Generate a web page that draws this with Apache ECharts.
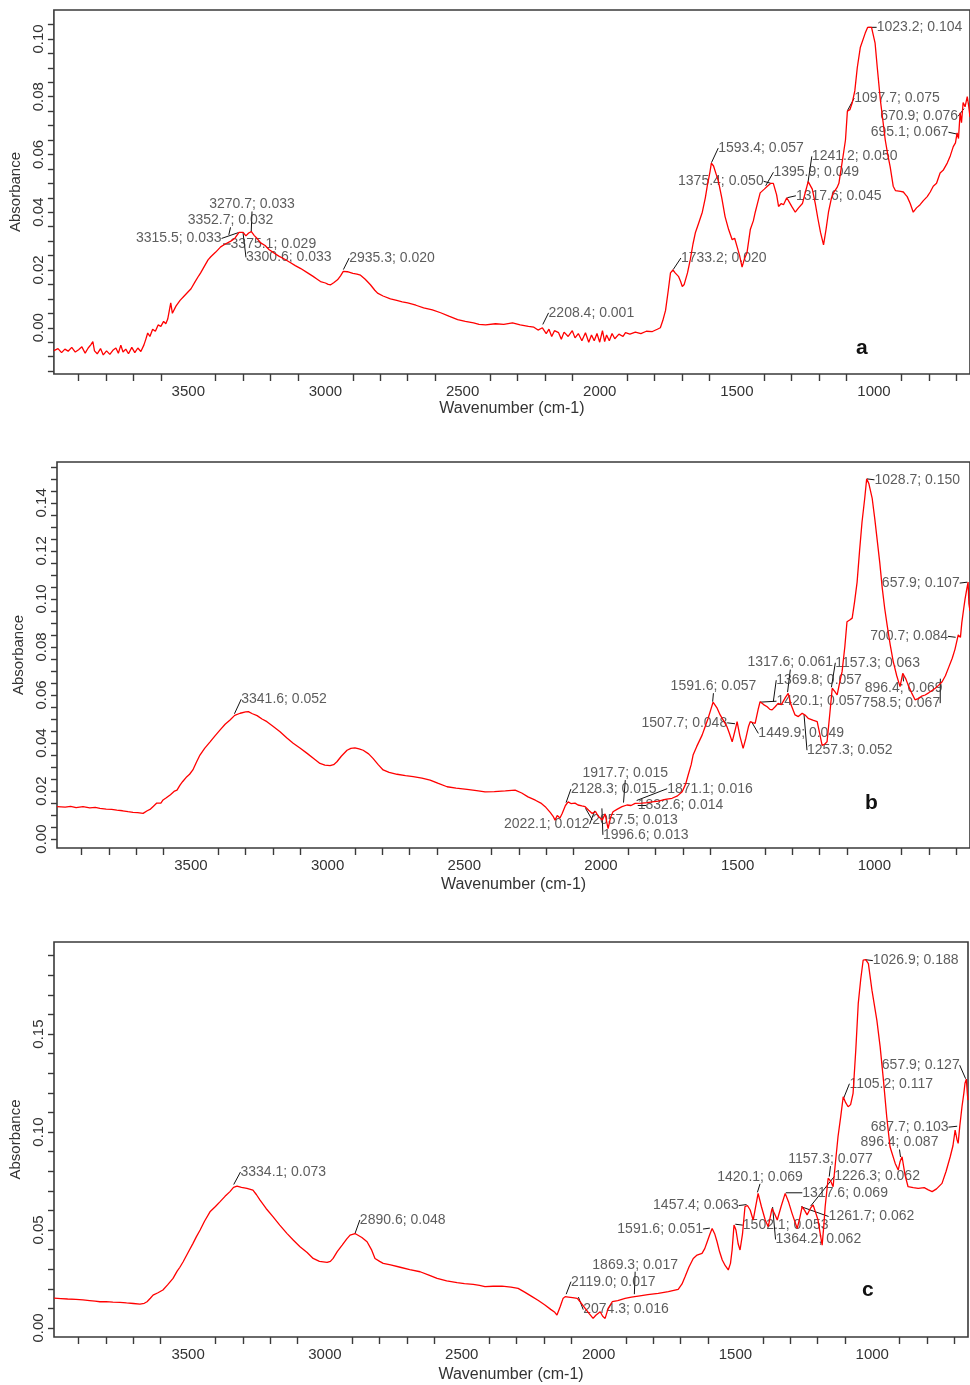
<!DOCTYPE html>
<html>
<head>
<meta charset="utf-8">
<title>FTIR spectra a, b, c</title>
<script src="https://cdn.jsdelivr.net/npm/echarts@6/dist/echarts.min.js"></script>
<style>
  body { margin: 0; background: #fff; }
  #chart { width: 970px; height: 1385px; }
</style>
</head>
<body>
<div id="chart"></div>
<script>
// ---- data: [wavenumber cm-1, absorbance] ----
var spectrumA = [
  [3990,-0.0079],[3975,-0.0072],[3962,-0.0086],[3950,-0.0074],[3938,-0.0081],[3925,-0.0068],[3912,-0.0084],
  [3900,-0.0076],[3888,-0.0066],[3876,-0.0088],[3865,-0.0070],[3855,-0.0058],[3848,-0.0048],[3842,-0.0080],
  [3832,-0.0090],[3820,-0.0072],[3810,-0.0094],[3798,-0.0080],[3786,-0.0092],[3775,-0.0078],[3764,-0.0070],
  [3755,-0.0088],[3746,-0.0060],[3738,-0.0084],[3728,-0.0074],[3718,-0.0090],[3706,-0.0068],[3695,-0.0086],
  [3684,-0.0070],[3673,-0.0082],[3662,-0.0060],[3655,-0.0040],[3648,-0.0018],[3640,-0.0030],[3630,-0.0005],
  [3620,-0.0012],[3610,0.0010],[3600,0.0005],[3590,0.0022],[3582,0.0014],[3575,0.0030],[3564,0.0086],
  [3558,0.0050],[3545,0.0075],[3530,0.0095],[3515,0.0110],[3503,0.0122],[3490,0.0135],[3475,0.0160],
  [3462,0.0180],[3455,0.0190],[3440,0.0215],[3428,0.0235],[3418,0.0246],[3400,0.0262],[3382,0.0280],
  [3365,0.0290],[3345,0.0300],[3330,0.0310],[3315,0.0330],[3309,0.0325],[3300,0.0330],[3290,0.0318],
  [3280,0.0328],[3270,0.0333],[3260,0.0320],[3250,0.0310],[3236,0.0294],[3220,0.0285],[3205,0.0270],
  [3189,0.0260],[3170,0.0248],[3150,0.0238],[3127,0.0225],[3110,0.0215],[3090,0.0205],[3065,0.0190],
  [3045,0.0178],[3030,0.0168],[3018,0.0160],[3000,0.0155],[2990,0.0150],[2981,0.0149],[2970,0.0156],
  [2956,0.0166],[2945,0.0180],[2935,0.0195],[2920,0.0194],[2900,0.0188],[2885,0.0186],[2872,0.0182],
  [2855,0.0168],[2836,0.0149],[2820,0.0130],[2810,0.0120],[2790,0.0110],[2763,0.0100],[2740,0.0095],
  [2720,0.0090],[2700,0.0086],[2670,0.0078],[2642,0.0069],[2610,0.0062],[2580,0.0052],[2550,0.0040],
  [2518,0.0028],[2490,0.0022],[2460,0.0017],[2440,0.0012],[2416,0.0010],[2380,0.0014],[2350,0.0012],
  [2318,0.0017],[2290,0.0010],[2260,0.0005],[2240,0.0002],[2225,-0.0008],[2209,0.0000],[2195,-0.0020],
  [2185,-0.0005],[2175,-0.0030],[2165,-0.0010],[2150,-0.0017],[2140,-0.0040],[2130,-0.0015],[2115,-0.0030],
  [2100,-0.0010],[2090,-0.0035],[2078,-0.0020],[2065,-0.0045],[2052,-0.0017],[2040,-0.0050],[2030,-0.0025],
  [2020,-0.0045],[2010,-0.0020],[2000,-0.0050],[1990,-0.0010],[1982,-0.0048],[1975,-0.0025],[1965,-0.0045],
  [1955,-0.0020],[1945,-0.0038],[1930,-0.0022],[1915,-0.0030],[1906,-0.0017],[1890,-0.0022],[1870,-0.0015],
  [1850,-0.0020],[1830,-0.0012],[1808,-0.0013],[1790,-0.0005],[1779,0.0000],[1770,0.0025],[1760,0.0060],
  [1750,0.0130],[1742,0.0190],[1733,0.0200],[1725,0.0190],[1713,0.0178],[1705,0.0160],[1699,0.0143],
  [1692,0.0150],[1688,0.0149],[1680,0.0190],[1670,0.0235],[1660,0.0290],[1651,0.0330],[1640,0.0360],
  [1626,0.0400],[1615,0.0450],[1608,0.0490],[1598,0.0540],[1593,0.0570],[1585,0.0560],[1575,0.0530],
  [1568,0.0510],[1555,0.0450],[1543,0.0385],[1530,0.0340],[1517,0.0305],[1508,0.0310],[1499,0.0280],
  [1490,0.0250],[1481,0.0210],[1472,0.0240],[1463,0.0260],[1451,0.0340],[1440,0.0370],[1433,0.0400],
  [1425,0.0430],[1415,0.0467],[1400,0.0480],[1389,0.0490],[1376,0.0500],[1367,0.0500],[1355,0.0460],
  [1348,0.0420],[1338,0.0430],[1330,0.0426],[1318,0.0450],[1312,0.0454],[1300,0.0420],[1287,0.0400],
  [1275,0.0415],[1261,0.0430],[1250,0.0470],[1240,0.0506],[1225,0.0480],[1214,0.0430],[1205,0.0380],
  [1195,0.0330],[1184,0.0287],[1175,0.0340],[1166,0.0400],[1155,0.0450],[1148,0.0467],[1135,0.0485],
  [1128,0.0500],[1115,0.0580],[1104,0.0650],[1097,0.0750],[1088,0.0755],[1079,0.0780],[1070,0.0820],
  [1061,0.0900],[1050,0.0970],[1032,0.1020],[1023,0.1040],[1009,0.1040],[996,0.0985],[988,0.0900],
  [977,0.0790],[968,0.0720],[959,0.0650],[950,0.0600],[941,0.0557],[930,0.0490],[922,0.0475],
  [915,0.0470],[903,0.0472],[893,0.0470],[886,0.0462],[879,0.0454],[868,0.0430],[857,0.0400],
  [845,0.0415],[832,0.0426],[820,0.0440],[806,0.0454],[795,0.0470],[784,0.0490],[772,0.0500],
  [759,0.0536],[748,0.0545],[733,0.0570],[722,0.0595],[711,0.0627],[703,0.0640],[697,0.0675],
  [692,0.0655],[686,0.0744],[681,0.0710],[675,0.0780],[668,0.0765],[660,0.0800],[655,0.0770],[650,0.0730]
];
var spectrumB = [
  [3990,0.0135],[3960,0.0133],[3940,0.0136],[3920,0.0131],[3895,0.0135],[3870,0.0130],[3850,0.0132],
  [3833,0.0128],[3810,0.0125],[3790,0.0124],[3771,0.0121],[3750,0.0118],[3730,0.0114],[3712,0.0111],
  [3695,0.0110],[3675,0.0107],[3660,0.0118],[3648,0.0125],[3639,0.0135],[3625,0.0150],[3610,0.0150],
  [3602,0.0163],[3590,0.0172],[3575,0.0185],[3560,0.0200],[3551,0.0204],[3540,0.0225],[3530,0.0240],
  [3515,0.0260],[3505,0.0270],[3493,0.0288],[3480,0.0320],[3467,0.0350],[3450,0.0378],[3430,0.0405],
  [3412,0.0430],[3394,0.0454],[3375,0.0478],[3357,0.0496],[3340,0.0515],[3320,0.0524],[3300,0.0530],
  [3290,0.0531],[3275,0.0522],[3258,0.0514],[3240,0.0500],[3222,0.0489],[3200,0.0470],[3174,0.0447],
  [3150,0.0422],[3126,0.0399],[3100,0.0378],[3075,0.0357],[3050,0.0335],[3028,0.0315],[3010,0.0308],
  [2991,0.0306],[2978,0.0310],[2966,0.0322],[2950,0.0345],[2929,0.0370],[2915,0.0378],[2900,0.0380],
  [2885,0.0376],[2870,0.0370],[2850,0.0355],[2834,0.0336],[2815,0.0310],[2797,0.0288],[2775,0.0278],
  [2746,0.0270],[2715,0.0264],[2687,0.0260],[2655,0.0254],[2625,0.0246],[2595,0.0232],[2563,0.0218],
  [2530,0.0212],[2490,0.0207],[2455,0.0202],[2424,0.0197],[2390,0.0198],[2350,0.0201],[2314,0.0204],
  [2290,0.0192],[2267,0.0176],[2240,0.0162],[2220,0.0150],[2204,0.0135],[2185,0.0110],[2175,0.0095],
  [2168,0.0079],[2160,0.0098],[2150,0.0088],[2142,0.0107],[2130,0.0140],[2120,0.0155],[2110,0.0148],
  [2095,0.0150],[2084,0.0142],[2070,0.0138],[2058,0.0135],[2045,0.0120],[2032,0.0107],[2020,0.0115],
  [2010,0.0095],[2003,0.0100],[1995,0.0080],[1985,0.0105],[1974,0.0044],[1965,0.0090],[1956,0.0114],
  [1940,0.0125],[1923,0.0135],[1905,0.0142],[1890,0.0140],[1875,0.0149],[1850,0.0150],[1830,0.0152],
  [1813,0.0155],[1790,0.0158],[1765,0.0165],[1740,0.0170],[1720,0.0180],[1703,0.0197],[1690,0.0230],
  [1681,0.0267],[1670,0.0310],[1663,0.0350],[1650,0.0385],[1630,0.0433],[1620,0.0465],[1608,0.0503],
  [1598,0.0540],[1590,0.0570],[1586,0.0575],[1575,0.0545],[1564,0.0517],[1550,0.0490],[1539,0.0468],
  [1530,0.0440],[1520,0.0405],[1510,0.0450],[1502,0.0489],[1492,0.0430],[1480,0.0378],[1470,0.0420],
  [1460,0.0470],[1454,0.0489],[1445,0.0485],[1436,0.0482],[1425,0.0540],[1418,0.0572],[1405,0.0560],
  [1392,0.0551],[1382,0.0540],[1374,0.0538],[1362,0.0552],[1352,0.0565],[1340,0.0560],[1334,0.0565],
  [1325,0.0590],[1315,0.0607],[1305,0.0560],[1290,0.0517],[1278,0.0510],[1264,0.0524],[1252,0.0515],
  [1242,0.0503],[1225,0.0495],[1209,0.0489],[1200,0.0440],[1191,0.0390],[1182,0.0395],[1173,0.0405],
  [1163,0.0520],[1154,0.0628],[1145,0.0615],[1136,0.0600],[1127,0.0650],[1118,0.0697],[1108,0.0800],
  [1100,0.0905],[1090,0.0912],[1081,0.0920],[1072,0.0990],[1063,0.1070],[1054,0.1200],[1045,0.1320],
  [1035,0.1420],[1028,0.1500],[1020,0.1480],[1008,0.1420],[998,0.1330],[990,0.1250],[980,0.1150],
  [971,0.1045],[962,0.0960],[953,0.0890],[942,0.0810],[931,0.0740],[918,0.0680],[906,0.0635],
  [896,0.0690],[891,0.0683],[884,0.0665],[876,0.0640],[864,0.0610],[851,0.0580],[840,0.0585],
  [827,0.0595],[814,0.0600],[800,0.0610],[790,0.0618],[777,0.0628],[765,0.0640],[752,0.0655],
  [740,0.0680],[728,0.0715],[715,0.0753],[705,0.0790],[693,0.0850],[685,0.0840],[680,0.0900],
  [673,0.0960],[668,0.1000],[662,0.1040],[657,0.1070],[654,0.0980],[650,0.0950]
];
var spectrumC = [
  [3990,0.0152],[3965,0.0150],[3940,0.0148],[3910,0.0146],[3884,0.0143],[3860,0.0140],[3840,0.0137],
  [3822,0.0134],[3800,0.0135],[3775,0.0132],[3749,0.0131],[3725,0.0128],[3700,0.0125],[3676,0.0122],
  [3660,0.0126],[3650,0.0134],[3638,0.0152],[3628,0.0168],[3610,0.0180],[3592,0.0194],[3575,0.0220],
  [3555,0.0253],[3540,0.0290],[3530,0.0310],[3518,0.0338],[3500,0.0385],[3482,0.0432],[3470,0.0465],
  [3456,0.0500],[3440,0.0545],[3420,0.0593],[3400,0.0620],[3383,0.0645],[3365,0.0672],[3347,0.0696],
  [3334,0.0718],[3321,0.0724],[3305,0.0718],[3285,0.0713],[3263,0.0704],[3250,0.0680],[3237,0.0653],
  [3215,0.0610],[3190,0.0568],[3165,0.0525],[3139,0.0483],[3115,0.0448],[3091,0.0415],[3065,0.0385],
  [3043,0.0355],[3020,0.0340],[2992,0.0335],[2980,0.0340],[2970,0.0355],[2955,0.0390],[2937,0.0423],
  [2920,0.0455],[2908,0.0474],[2890,0.0482],[2883,0.0480],[2865,0.0462],[2846,0.0440],[2830,0.0400],
  [2817,0.0355],[2800,0.0340],[2787,0.0330],[2760,0.0322],[2725,0.0310],[2690,0.0298],[2652,0.0287],
  [2620,0.0270],[2590,0.0253],[2555,0.0240],[2517,0.0231],[2490,0.0226],[2458,0.0223],[2435,0.0218],
  [2415,0.0211],[2385,0.0213],[2353,0.0214],[2320,0.0209],[2294,0.0202],[2270,0.0183],[2243,0.0160],
  [2220,0.0140],[2196,0.0117],[2175,0.0095],[2160,0.0080],[2152,0.0066],[2140,0.0110],[2130,0.0150],
  [2122,0.0160],[2110,0.0158],[2095,0.0155],[2078,0.0151],[2065,0.0130],[2049,0.0100],[2035,0.0075],
  [2020,0.0049],[2010,0.0065],[1994,0.0083],[1985,0.0060],[1976,0.0049],[1965,0.0100],[1950,0.0134],
  [1930,0.0140],[1903,0.0151],[1880,0.0158],[1855,0.0163],[1820,0.0170],[1782,0.0177],[1745,0.0186],
  [1709,0.0197],[1695,0.0225],[1684,0.0262],[1670,0.0310],[1654,0.0355],[1640,0.0372],[1622,0.0381],
  [1612,0.0405],[1603,0.0440],[1593,0.0480],[1585,0.0508],[1575,0.0478],[1567,0.0440],[1558,0.0390],
  [1548,0.0347],[1537,0.0318],[1526,0.0296],[1518,0.0330],[1512,0.0398],[1505,0.0526],[1498,0.0500],
  [1490,0.0430],[1483,0.0398],[1474,0.0480],[1465,0.0619],[1456,0.0625],[1446,0.0602],[1435,0.0551],
  [1426,0.0620],[1417,0.0687],[1405,0.0620],[1391,0.0551],[1380,0.0517],[1366,0.0610],[1356,0.0580],
  [1347,0.0551],[1333,0.0620],[1318,0.0687],[1305,0.0640],[1293,0.0585],[1274,0.0508],[1265,0.0560],
  [1256,0.0619],[1247,0.0600],[1238,0.0577],[1226,0.0610],[1216,0.0628],[1207,0.0590],[1198,0.0551],
  [1190,0.0480],[1183,0.0423],[1177,0.0520],[1172,0.0619],[1161,0.0764],[1152,0.0750],[1143,0.0721],
  [1134,0.0850],[1125,0.0976],[1115,0.1080],[1106,0.1180],[1097,0.1150],[1088,0.1129],[1079,0.1140],
  [1070,0.1197],[1060,0.1420],[1051,0.1657],[1042,0.1780],[1033,0.1878],[1024,0.1880],[1014,0.1860],
  [1001,0.1724],[983,0.1570],[971,0.1435],[959,0.1265],[947,0.1078],[935,0.0925],[916,0.0840],
  [905,0.0806],[898,0.0850],[891,0.0874],[880,0.0780],[869,0.0721],[850,0.0716],[832,0.0713],
  [810,0.0716],[795,0.0705],[781,0.0696],[765,0.0710],[745,0.0738],[730,0.0800],[715,0.0874],
  [705,0.0930],[697,0.1010],[690,0.0960],[686,0.0942],[680,0.1030],[672,0.1129],[665,0.1200],
  [661,0.1249],[656,0.1270],[652,0.1190],[650,0.1163]
];

// peak annotations [wavenumber, absorbance]
var peaksA = [[3270.7,0.033],[3352.7,0.032],[3315.5,0.033],[3375.1,0.029],[3300.6,0.033],[2935.3,0.020],
  [2208.4,0.001],[1733.2,0.020],[1593.4,0.057],[1375.4,0.050],[1395.9,0.049],[1317.6,0.045],[1241.2,0.050],
  [1097.7,0.075],[1023.2,0.104],[670.9,0.076],[695.1,0.067]];
var peaksB = [[3341.6,0.052],[1028.7,0.150],[657.9,0.107],[700.7,0.084],[1317.6,0.061],[1157.3,0.063],
  [1369.8,0.057],[896.4,0.069],[1591.6,0.057],[1420.1,0.057],[758.5,0.067],[1507.7,0.048],[1449.9,0.049],
  [1257.3,0.052],[1917.7,0.015],[2128.3,0.015],[1871.1,0.016],[1832.6,0.014],[2022.1,0.012],[2057.5,0.013],
  [1996.6,0.013]];
var peaksC = [[3334.1,0.073],[2890.6,0.048],[1026.9,0.188],[657.9,0.127],[1105.2,0.117],[687.7,0.103],
  [896.4,0.087],[1157.3,0.077],[1226.3,0.062],[1420.1,0.069],[1317.6,0.069],[1457.4,0.063],[1261.7,0.062],
  [1591.6,0.051],[1502.1,0.053],[1364.2,0.062],[1869.3,0.017],[2119.0,0.017],[2074.3,0.016]];

// tick labels
var xLabels = [1000, 1500, 2000, 2500, 3000, 3500];
var xMinorTicks = [700,800,900,1100,1200,1300,1400,1600,1700,1800,1900,2100,2200,2300,2400,
  2600,2700,2800,2900,3100,3200,3300,3400,3600,3700,3800,3900];
var yLabelsA = [0, 0.02, 0.04, 0.06, 0.08, 0.10];
var yTicksA = [-0.015,-0.01,-0.005,0,0.005,0.01,0.015,0.02,0.025,0.03,0.035,0.04,0.045,0.05,0.055,
  0.06,0.065,0.07,0.075,0.08,0.085,0.09,0.095,0.1,0.105];
var yLabelsB = [0, 0.02, 0.04, 0.06, 0.08, 0.10, 0.12, 0.14];
var yTicksB = [0,0.005,0.01,0.015,0.02,0.025,0.03,0.035,0.04,0.045,0.05,0.055,0.06,0.065,0.07,0.075,
  0.08,0.085,0.09,0.095,0.1,0.105,0.11,0.115,0.12,0.125,0.13,0.135,0.14,0.145,0.15,0.155];
var yLabelsC = [0, 0.05, 0.10, 0.15];
var yTicksC = [0,0.01,0.02,0.03,0.04,0.05,0.06,0.07,0.08,0.09,0.1,0.11,0.12,0.13,0.14,0.15,0.16,0.17,0.18,0.19];

// where each annotation text sits, in px from its peak (left edge, middle)
var shiftA = [[-42,-28],[-41,-15],[-103,6],[8,0],[3,25],[6,-12],[6,-12],[8,-12],[7,-15],[-93,-2],[8,-14],
  [9,-2],[4,-27],[7,-13],[9,0],[-84,8],[-87,-2]];
var shiftB = [[7,-15],[8,1],[-86,1],[-86,-1],[-40,-30],[4,-25],[3,-22],[-38,15],[-42,-16],[17,-1],[-78,25],
  [-94,-1],[7,12],[3,36],[-41,-30],[5,-14],[31,-12],[-9,0],[-91,14],[7,12],[1,27]];
var shiftC = [[7,-13],[5,-14],[8,1],[-84,-14],[6,-15],[-87,1],[-40,-15],[-41,-18],[24,-30],[-40,-16],[17,0],
  [-94,1],[28,10],[-93,1],[8,1],[3,33],[-42,-30],[5,-13],[5,13]];

var FONT = "'Liberation Sans', Arial, sans-serif";
var TEXT = '#333';

var panels = [
  { spectrum: spectrumA, peaks: peaksA, shift: shiftA, yMin: -0.016, yMax: 0.11,
    yLabels: yLabelsA, yTicks: yTicksA, grid: { left: 53, top: 10, width: 917, height: 364 },
    yNameGap: 21, xNameGap: 27, tag: 'a', tagPos: [862, 350] },
  { spectrum: spectrumB, peaks: peaksB, shift: shiftB, yMin: -0.0037, yMax: 0.157,
    yLabels: yLabelsB, yTicks: yTicksB, grid: { left: 57, top: 462, width: 913, height: 386 },
    yNameGap: 24, xNameGap: 29, tag: 'b', tagPos: [871, 805] },
  { spectrum: spectrumC, peaks: peaksC, shift: shiftC, yMin: -0.0046, yMax: 0.197,
    yLabels: yLabelsC, yTicks: yTicksC, grid: { left: 54, top: 942, width: 914, height: 395 },
    yNameGap: 22, xNameGap: 30, tag: 'c', tagPos: [868, 1292] }
];

var chart = echarts.init(document.getElementById('chart'));
var option = { animation: false, backgroundColor: '#fff', grid: [], xAxis: [], yAxis: [], series: [], graphic: [] };

panels.forEach(function (p, i) {
  option.grid.push({
    left: p.grid.left, top: p.grid.top, width: p.grid.width, height: p.grid.height,
    show: true, borderColor: '#3a3a3a', borderWidth: 1.6, backgroundColor: 'transparent', containLabel: false
  });
  option.xAxis.push({
    type: 'value', gridIndex: i, inverse: true, min: 650, max: 3990, position: 'bottom',
    name: 'Wavenumber (cm-1)', nameLocation: 'middle', nameGap: p.xNameGap,
    nameTextStyle: { color: TEXT, fontFamily: FONT, fontSize: 16 },
    axisLine: { show: false, onZero: false },
    splitLine: { show: false },
    axisTick: { show: true, customValues: xMinorTicks, length: 7, lineStyle: { color: '#3a3a3a', width: 1.4 } },
    axisLabel: {
      customValues: xLabels, margin: 10, color: TEXT, fontFamily: FONT, fontSize: 15,
      formatter: function (v) { return String(v); }
    }
  });
  option.yAxis.push({
    type: 'value', gridIndex: i, min: p.yMin, max: p.yMax, position: 'left',
    name: 'Absorbance', nameLocation: 'middle', nameRotate: 90, nameGap: p.yNameGap,
    nameTextStyle: { color: TEXT, fontFamily: FONT, fontSize: 15 },
    axisLine: { show: false, onZero: false },
    splitLine: { show: false },
    axisTick: { show: true, customValues: p.yTicks, length: 6, lineStyle: { color: '#3a3a3a', width: 1.4 } },
    axisLabel: {
      customValues: p.yLabels, rotate: 90, margin: 8, color: TEXT, fontFamily: FONT, fontSize: 15,
      formatter: function (v) { return v.toFixed(2); }
    }
  });
  option.series.push({
    type: 'line', xAxisIndex: i, yAxisIndex: i, data: p.spectrum,
    showSymbol: false, silent: true,
    lineStyle: { color: '#ff0000', width: 1.3 }
  });
  option.series.push({
    type: 'scatter', xAxisIndex: i, yAxisIndex: i, symbolSize: 1, silent: true,
    itemStyle: { color: 'transparent' },
    data: p.peaks,
    label: {
      show: true, position: 'inside', color: TEXT, fontFamily: FONT, fontSize: 14,
      formatter: function (d) { return d.value[0].toFixed(1) + '; ' + d.value[1].toFixed(3); }
    },
    labelLine: { show: true, lineStyle: { color: '#111', width: 1 } },
    labelLayout: function (params) {
      var s = p.shift[params.dataIndex];
      var cx = params.rect.x + params.rect.width / 2;
      var cy = params.rect.y + params.rect.height / 2;
      return { x: cx + s[0], y: cy + s[1], align: 'left', verticalAlign: 'middle' };
    }
  });
  option.graphic.push({
    type: 'text', left: p.tagPos[0] - 6, top: p.tagPos[1] - 12,
    style: { text: p.tag, font: "bold 21px 'Liberation Sans', Arial, sans-serif", fill: '#111' }
  });
});

chart.setOption(option);
</script>
</body>
</html>
